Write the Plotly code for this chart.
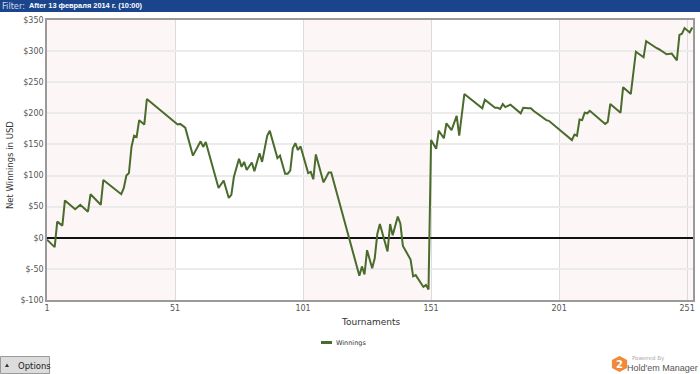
import plotly.graph_objects as go

# Data: tournament number at each vertex of the cumulative winnings line, and net winnings (USD)
tournaments = [1, 4, 5, 7, 8, 12, 14, 17, 18, 20, 22, 23, 30, 31, 32, 33, 34, 35, 36, 37, 39, 40,
               52, 53, 55, 58, 61, 62, 63, 68, 70, 72, 73, 74, 76, 77, 78, 79, 81, 82, 84, 85, 87, 88,
               91, 92, 94, 95, 96, 97, 98, 99, 100, 103, 104, 105, 106, 109, 111, 112,
               123, 124, 125, 126, 128, 129, 130, 131, 134, 135, 136, 138, 139, 140, 143, 144, 145,
               148, 149, 150, 151, 153, 154, 156, 157, 159, 161, 162, 164, 171, 172, 176, 177, 178,
               179, 180, 182, 186, 187, 189, 190, 191, 196, 197, 206, 207, 208, 209, 210, 211, 212,
               213, 219, 220, 221, 225, 226, 229, 231, 234, 235, 239, 240, 243, 245, 247, 248, 249,
               250, 252, 253]
winnings = [-3, -15, 26, 19.5, 60, 46, 53, 42, 70, 61, 53, 93, 70, 80, 100, 104, 146, 164, 162, 189, 182, 223,
            182, 183, 177, 132, 155, 146, 154, 80, 92, 64, 69, 98, 127, 114, 122, 109, 121, 107, 136, 122, 164, 172,
            128, 132, 103, 103, 108, 144, 152, 141, 147, 104, 106, 94, 134, 89, 105, 105,
            -61, -46, -59, -20, -49, -33, 6, 22, -22, 22, 4, 34, 23, -13, -35, -62, -60,
            -79, -76, -83, 157, 143, 172, 160, 184, 173, 196, 164, 231, 208, 222, 209, 209, 207,
            215, 210, 214, 200, 209, 208, 208, 204, 189, 188, 157, 166, 164, 190, 189, 201, 200,
            204, 183, 186, 215, 201, 242, 231, 299, 290, 316, 305, 303, 295, 296, 285, 326, 328,
            337, 330, 338]

x_ticks = [1, 51, 101, 151, 201, 251]
y_ticks = [-100, -50, 0, 50, 100, 150, 200, 250, 300, 350]
y_ticktext = ["$-100", "$-50", "$0", "$50", "$100", "$150", "$200", "$250", "$300", "$350"]
band_starts = [1, 101, 201]
band_ends = [51, 151, 253.3]

W, H = 700, 374
L, R, T, B = 47, 7, 20, 74
PW, PH = W - L - R, H - T - B


def px(x):
    return (x - L) / PW


def py(y):
    return (H - B - y) / PH


FONT = "DejaVu Sans"
GREEN = "#4a6b2c"

fig = go.Figure()
fig.add_trace(go.Scatter(x=tournaments, y=winnings, mode="lines", name="Winnings",
                         line=dict(color=GREEN, width=2), showlegend=False))

shapes = []
for a, b in zip(band_starts, band_ends):
    shapes.append(dict(type="rect", xref="x", yref="paper", x0=a, x1=b, y0=0, y1=1,
                       fillcolor="#fcf6f6", line=dict(width=0), layer="below"))
# title bar
shapes.append(dict(type="rect", xref="paper", yref="paper", x0=px(0), x1=px(W), y0=py(12), y1=py(0),
                   fillcolor="#1a458d", line=dict(width=0)))
# legend swatch
shapes.append(dict(type="line", xref="paper", yref="paper", x0=px(321), x1=px(332), y0=py(342.5), y1=py(342.5),
                   line=dict(color=GREEN, width=3)))
# options button
shapes.append(dict(type="rect", xref="paper", yref="paper", x0=px(0.5), x1=px(49.5), y0=py(373.5), y1=py(356.5),
                   fillcolor="#dcdcdc", line=dict(color="#9a9a9a", width=1)))
shapes.append(dict(type="path", xref="paper", yref="paper",
                   path=f"M {px(5)} {py(367)} L {px(9)} {py(367)} L {px(7)} {py(363.5)} Z",
                   fillcolor="#333", line=dict(width=0)))
# HM logo hexagon
cx, cy, rr = 619.5, 364, 8
hexpts = [(cx - rr * 0.95, cy - rr * 0.5), (cx, cy - rr), (cx + rr * 0.95, cy - rr * 0.5),
          (cx + rr * 0.95, cy + rr * 0.5), (cx, cy + rr), (cx - rr * 0.95, cy + rr * 0.5)]
path = "M " + " L ".join(f"{px(a)} {py(b)}" for a, b in hexpts) + " Z"
shapes.append(dict(type="path", xref="paper", yref="paper", path=path,
                   fillcolor="#f0893a", line=dict(width=0)))


def ann(x, y, text, size, color, family=FONT, xanchor="center", yanchor="middle", angle=0):
    return dict(x=px(x), y=py(y), xref="paper", yref="paper", xanchor=xanchor, yanchor=yanchor,
                showarrow=False, text=text, textangle=angle, borderpad=0,
                font=dict(family=family, size=size, color=color))


annotations = [
    ann(1, 6, "Filter:", 8.2, "#d4dcea", xanchor="left"),
    ann(28, 6, "<b>After 13 февраля 2014 г. (10:00)</b>", 7.4, "white", family="Liberation Sans", xanchor="left"),
    ann(10, 165, "Net Winnings in USD", 8.5, "#333", angle=-90),
    ann(370, 322, "Tournaments", 9, "#333"),
    ann(335, 343, "Winnings", 6.5, "#333", xanchor="left"),
    ann(17, 365.5, "Options", 8.5, "#222", xanchor="left"),
    ann(619.5, 364.5, "<b>2</b>", 10, "white"),
    ann(631, 358, "Powered By", 5.5, "#aaa", xanchor="left"),
    ann(699, 367.5, "Hold'em Manager", 9, "#555", family="Liberation Sans", xanchor="right"),
]

fig.update_layout(
    width=W, height=H,
    margin=dict(l=L, r=R, t=T, b=B, autoexpand=False),
    paper_bgcolor="white", plot_bgcolor="white",
    shapes=shapes, annotations=annotations,
    showlegend=False,
    xaxis=dict(range=[1, 253.3], tickvals=x_ticks, ticktext=[str(v) for v in x_ticks],
               showgrid=True, gridcolor="#dcdcdc", gridwidth=1, zeroline=False,
               showline=True, linecolor="#9a9a9a", linewidth=1.5, mirror=True,
               ticks="", tickfont=dict(family=FONT, size=8, color="#555"), automargin=False),
    yaxis=dict(range=[-100, 350], tickvals=y_ticks, ticktext=y_ticktext,
               showgrid=True, gridcolor="#ebebeb", gridwidth=1.5,
               zeroline=True, zerolinecolor="#111", zerolinewidth=1.5,
               showline=True, linecolor="#9a9a9a", linewidth=1.5, mirror=True,
               ticks="", tickfont=dict(family=FONT, size=8, color="#555"), automargin=False),
)

fig.write_html("out.html", config={"displayModeBar": False},
               post_script="document.body.style.margin='0';document.body.style.overflow='hidden';")
